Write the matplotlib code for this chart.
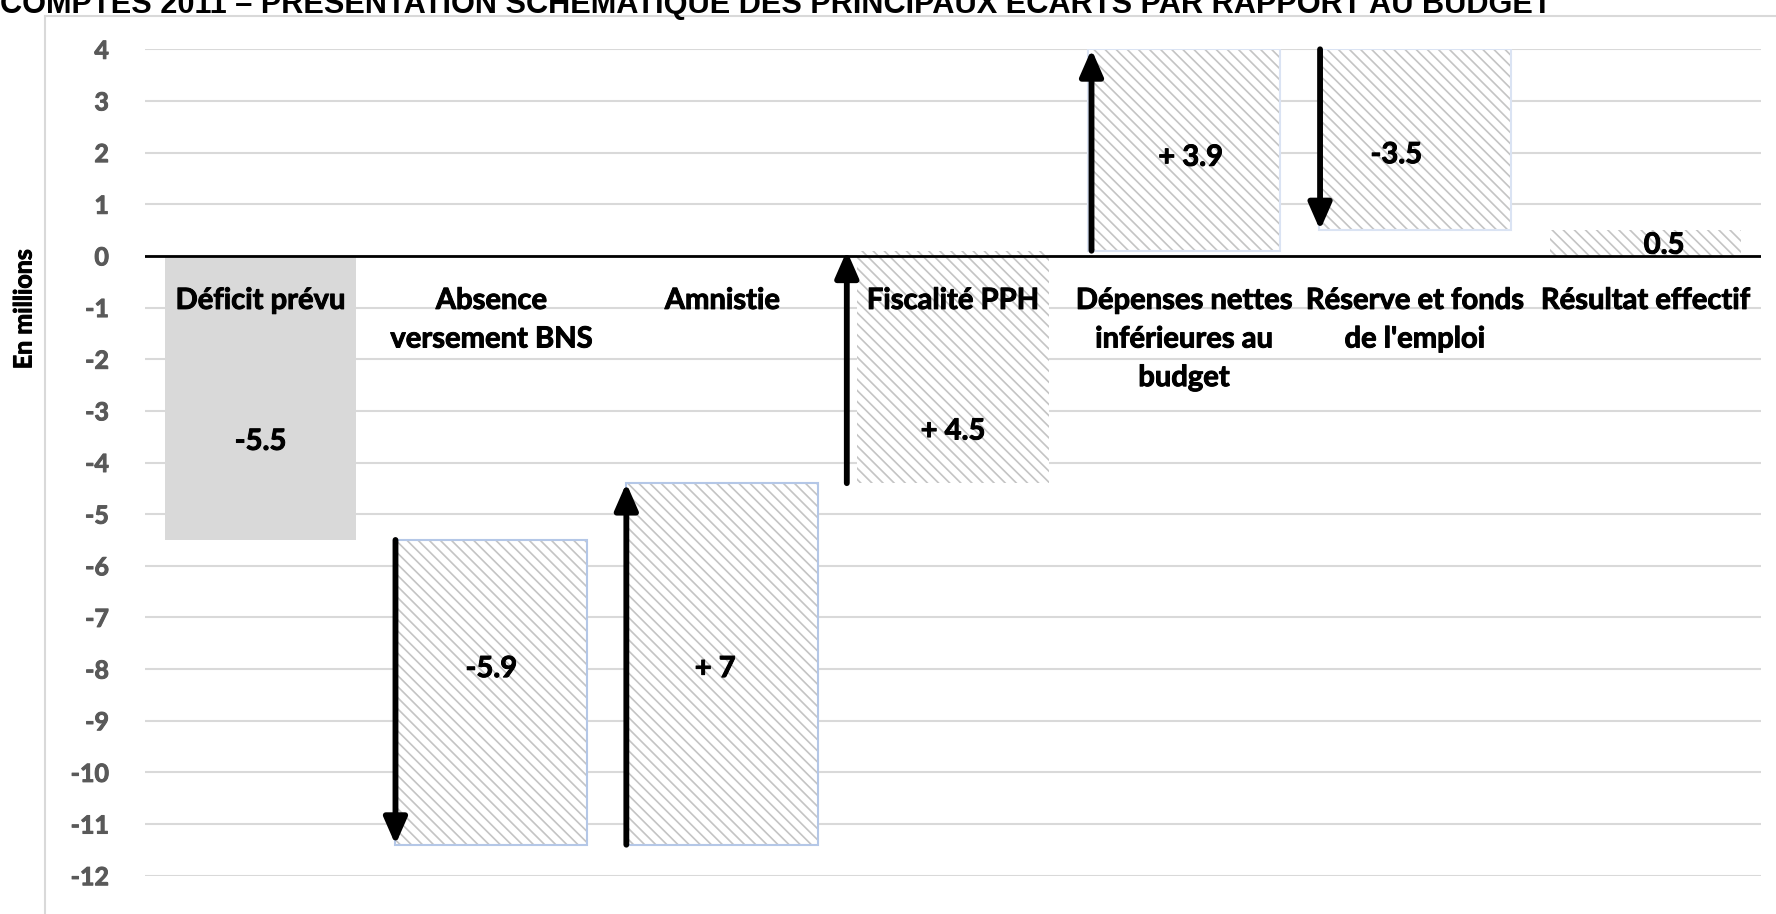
import matplotlib
matplotlib.use("Agg")
import matplotlib.pyplot as plt
from matplotlib.lines import Line2D
from matplotlib.patches import Rectangle
import matplotlib.patheffects as pe

# ---------------- data ----------------
title = "COMPTES 2011 – PRÉSENTATION SCHÉMATIQUE DES PRINCIPAUX ÉCARTS PAR RAPPORT AU BUDGET"
y_label = "En millions"
categories = ["Déficit prévu", "Absence\nversement BNS", "Amnistie", "Fiscalité PPH",
              "Dépenses nettes\ninférieures au\nbudget", "Réserve et fonds\nde l'emploi",
              "Résultat effectif"]
changes = [-5.5, -5.9, 7.0, 4.5, 3.9, -3.5, 0.5]
is_total = [True, False, False, False, False, False, True]
value_labels = ["-5.5", "-5.9", "+ 7", "+ 4.5", "+ 3.9", "-3.5", "0.5"]
y_ticks = list(range(-12, 5))

# ---------------- layout / style ----------------
W, H, DPI = 1776, 914, 100
FONT = "Lato"
WEIGHT = "bold"
label_dy = [-0.85, 0.45, -0.1, -1.25, -0.15, -0.3, -0.05]
label_dx = [0.0, 0.0, -0.03, 0.0, 0.03, -0.08, 0.08]
edge_cols = ["none", "#b4c7e7", "#b4c7e7", "none", "#dae3f3", "#dae3f3", "none"]
bar_width = 0.83
arrow_dx = [0, -0.415, -0.415, -0.46, -0.40, -0.41, 0]

def thick(color):
    return [pe.withStroke(linewidth=0.7, foreground=color)]

plt.rcParams["hatch.linewidth"] = 1.2
plt.rcParams["hatch.color"] = "#c4c4c4"

fig = plt.figure(figsize=(W / DPI, H / DPI), dpi=DPI)
ax = fig.add_axes([145 / W, 1 - 875.7 / H, (1761 - 145) / W, (875.7 - 49.3) / H])

# compute waterfall geometry
bottoms, heights = [], []
running = 0.0
for ch, tot in zip(changes, is_total):
    if tot:
        bottoms.append(0.0)
        heights.append(ch)
        running = ch
    else:
        bottoms.append(running)
        heights.append(ch)
        running += ch

x = list(range(len(categories)))
for i in x:
    if is_total[i] and i == 0:
        ax.bar(i, heights[i], bottom=bottoms[i], width=bar_width, color="#d9d9d9",
               edgecolor="none", zorder=2)
    else:
        ax.bar(i, heights[i], bottom=bottoms[i], width=bar_width, facecolor="white",
               edgecolor="#c4c4c4", hatch="\\\\\\", linewidth=0, zorder=2)
        if edge_cols[i] != "none":
            ax.bar(i, heights[i], bottom=bottoms[i], width=bar_width, facecolor="none",
                   edgecolor=edge_cols[i], linewidth=1.5, zorder=2.1)

# arrows for the changes
for i in x:
    if is_total[i]:
        continue
    xs = i + arrow_dx[i]
    ax.annotate("", xy=(xs, bottoms[i] + heights[i]), xytext=(xs, bottoms[i]),
                arrowprops=dict(arrowstyle="-|>,head_length=0.8,head_width=0.35",
                                color="black", lw=4.2, shrinkA=0, shrinkB=0,
                                mutation_scale=20),
                zorder=5)

# value labels
for i in x:
    yc = bottoms[i] + heights[i] / 2 + label_dy[i]
    t = ax.text(i + label_dx[i], yc, value_labels[i], ha="center", va="center",
                fontsize=21, fontweight=WEIGHT, family=FONT, color="black", zorder=6,
                path_effects=thick("black"))
    if i == len(x) - 1:
        t.set_clip_path(Rectangle((i - 0.5, 0), 1, 5, transform=ax.transData))

# category labels near zero line
for i in x:
    ax.text(i, -0.62, categories[i], ha="center", va="top", fontsize=21,
            fontweight=WEIGHT, family=FONT, color="black", linespacing=1.6, zorder=6,
            path_effects=thick("black"))

# zero line
ax.axhline(0, color="black", lw=2, zorder=4)

ax.set_xlim(-0.5, len(categories) - 0.5)
ax.set_ylim(-12, 4)
ax.set_yticks(y_ticks)
ax.set_yticklabels([str(v) for v in y_ticks], fontsize=18, fontweight=WEIGHT,
                   family=FONT, color="#595959")
for lab in ax.get_yticklabels():
    lab.set_path_effects(thick("#595959"))
ax.tick_params(axis="y", length=0, pad=26)
ax.set_xticks([])
ax.grid(axis="y", color="#d9d9d9", lw=1.5, zorder=0)
ax.set_axisbelow(True)
for s in ax.spines.values():
    s.set_visible(False)

fig.text(24 / W, 1 - 309 / H, y_label, rotation=90, ha="center", va="center",
         fontsize=18, fontweight=WEIGHT, family=FONT, color="black",
         path_effects=thick("black"))

# chart frame (partly outside image)
fy = 1 - 16 / H
fx = 45 / W
fig.add_artist(Line2D([fx, fx], [0, fy], color="#d9d9d9", lw=1.5, transform=fig.transFigure))
fig.add_artist(Line2D([fx, 1], [fy, fy], color="#d9d9d9", lw=1.5, transform=fig.transFigure))

# title (cut by top edge)
tt = fig.text(0, 1 - 12.5 / H, title, ha="left", va="baseline", fontsize=20,
              fontweight="bold", family="Liberation Sans", color="black")
fig.canvas.draw()
bb = tt.get_window_extent()
tt.set_fontsize(20 * 1554 / bb.width)

fig.savefig("out.png", dpi=DPI)
